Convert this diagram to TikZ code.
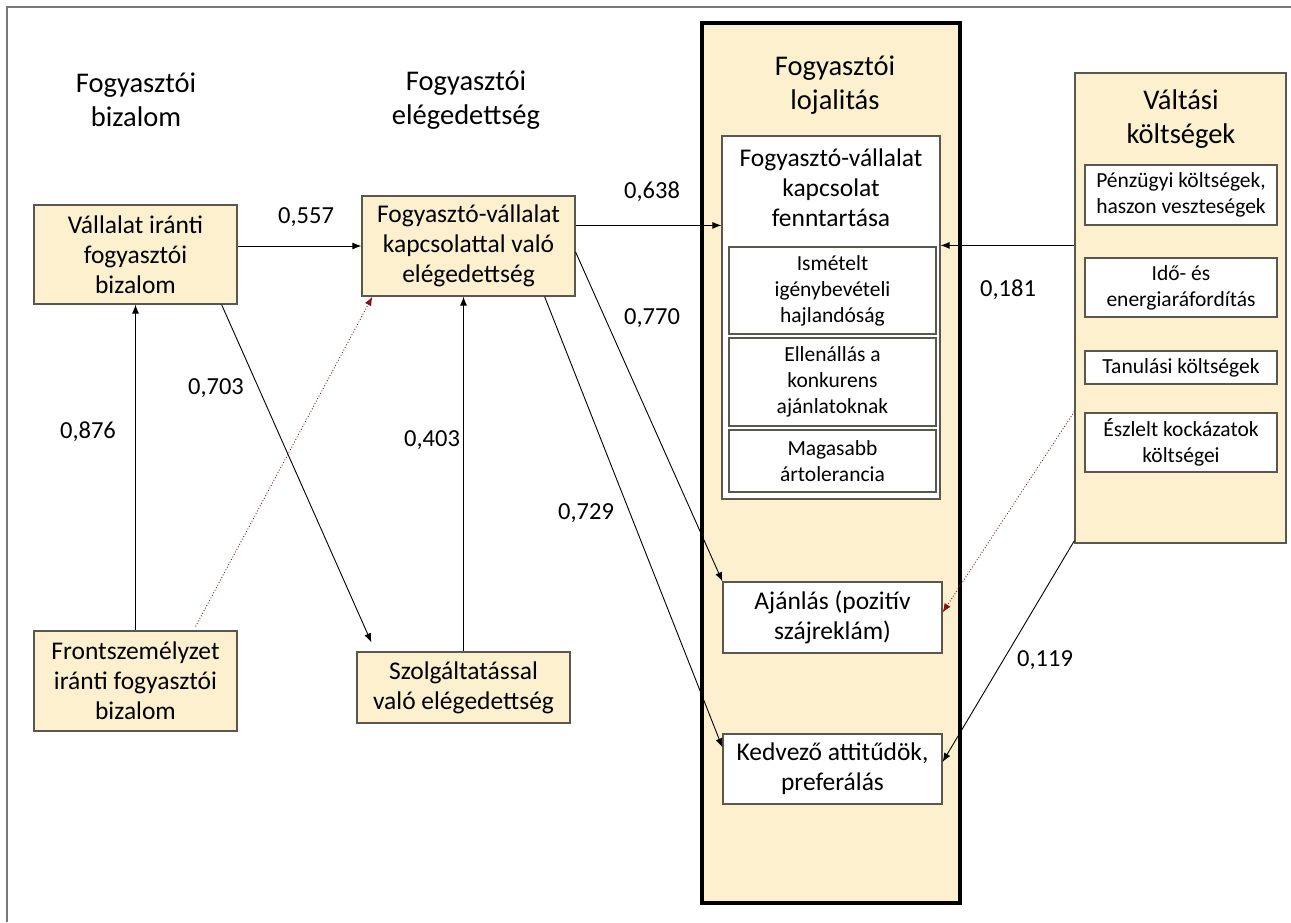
\documentclass[tikz,border=0pt]{standalone}
\usepackage{fontspec}
\setmainfont{Carlito}
\usetikzlibrary{arrows.meta,calc}
\definecolor{boxfill}{RGB}{252,240,207}
\definecolor{boxline}{RGB}{88,88,78}
\definecolor{darkred}{RGB}{130,20,20}
\definecolor{framegray}{RGB}{120,120,120}
\tikzset{
  ybox/.style={draw=boxline, line width=1.2pt, fill=boxfill, inner sep=0pt, align=center,
     font=\fontsize{25.5}{30}\selectfont},
  wbox/.style={draw=boxline, line width=1.2pt, fill=white, inner sep=0pt, align=center,
     font=\fontsize{25.5}{30}\selectfont},
  sbox/.style={draw=boxline, line width=1.2pt, fill=white, inner sep=0pt, align=center,
     font=\fontsize{21.5}{26}\selectfont},
  ttl/.style={align=center, inner sep=0pt, font=\fontsize{28.5}{34}\selectfont},
  lbl/.style={inner sep=0pt, font=\fontsize{24.5}{28}\selectfont},
  arr/.style={draw=black, line width=0.9pt, -{Latex[length=9pt,width=7pt]}},
  rarr/.style={draw=darkred, line width=0.9pt, dotted, -{Latex[length=9pt,width=7pt]}},
}
\begin{document}
\begin{tikzpicture}[x=1pt,y=-1pt]
\useasboundingbox (0,0) rectangle (1291,922);
% frame
\coordinate (fbl) at (7,922);
\coordinate (ftl) at (7,7);
\coordinate (ftr) at (1291,7);
\draw[framegray, line width=1.5pt] (fbl) -- (ftl) -- (ftr);

% loyalty big box
\node[draw=black, line width=3.5pt, fill=boxfill, minimum width=258pt, minimum height=880pt, inner sep=0pt] (loyal) at (831,463) {};
\node[ttl] (loyalt) at (835,85) {Fogyasztói\\lojalitás};
\node[wbox, minimum width=218pt, minimum height=363pt] (fenn) at (831,317.5) {};
\node[align=center, inner sep=0pt, font=\fontsize{25.5}{30}\selectfont] (fenntxt) at (831,188) {Fogyasztó-vállalat\\kapcsolat\\fenntartása};
\node[sbox, minimum width=207pt, minimum height=87pt] (ism) at (832.5,290.5) {Ismételt\\igénybevételi\\hajlandóság};
\node[sbox, minimum width=207pt, minimum height=88pt] (ell) at (832.5,382) {Ellenállás a\\konkurens\\ajánlatoknak};
\node[sbox, minimum width=207pt, minimum height=62pt] (mag) at (832.5,461) {Magasabb\\ártolerancia};
\node[wbox, minimum width=219pt, minimum height=71pt] (aj) at (832.5,617.5) {Ajánlás (pozitív\\szájreklám)};
\node[wbox, minimum width=219pt, minimum height=70pt] (kd) at (832.5,769) {Kedvező attitűdök,\\preferálás};

% switching costs
\node[ybox, minimum width=211pt, minimum height=470pt] (valt) at (1180.5,308) {};
\node[ttl] (valtt) at (1181,119.5) {Váltási\\költségek};
\node[sbox, minimum width=192pt, minimum height=60pt] (penz) at (1181,195) {Pénzügyi költségek,\\haszon veszteségek};
\node[sbox, minimum width=192pt, minimum height=59pt] (ido) at (1181,287.5) {Idő- és\\energiaráfordítás};
\node[sbox, minimum width=192pt, minimum height=33pt] (tan) at (1181,367.5) {Tanulási költségek};
\node[sbox, minimum width=192pt, minimum height=59pt] (esz) at (1181,442.5) {Észlelt kockázatok\\költségei};

% left column
\node[ttl] (bizt) at (136,100) {Fogyasztói\\bizalom};
\node[ttl] (elegt) at (466,100) {Fogyasztói\\elégedettség};
\node[ybox, minimum width=203pt, minimum height=99pt] (va) at (135.5,254.5) {Vállalat iránti\\fogyasztói\\bizalom};
\node[ybox, minimum width=203pt, minimum height=100pt] (fr) at (135.5,681) {Frontszemélyzet\\iránti fogyasztói\\bizalom};
\node[ybox, minimum width=213pt, minimum height=100pt] (fv) at (468.5,246) {Fogyasztó-vállalat\\kapcsolattal való\\elégedettség};
\node[ybox, minimum width=213pt, minimum height=71pt] (sz) at (463.5,687.5) {Szolgáltatással\\való elégedettség};

% arrows
\draw[arr] (fv.west -| va.east) -- (fv.west);
\draw[arr] (fr.north) -- (va.south);
\draw[arr] (sz.north) -- (sz.north |- fv.south);
\draw[arr] ([xshift=-16pt]va.south east) -- ([xshift=15pt,yshift=9pt]sz.north west);
\draw[rarr] ([xshift=-42pt,yshift=4pt]fr.north east) -- ([xshift=11pt]fv.south west);
\draw[arr] ([yshift=-30pt]fv.north east) coordinate (p638) -- (p638 -| fenn.west);
\draw[arr] ([yshift=-6pt]fv.east) -- (aj.north west);
\draw[arr] ([xshift=-31pt]fv.south east) -- ([yshift=-14pt]kd.north west);
\draw[arr] ([yshift=-173pt]valt.north west) coordinate (p181) -- (p181 -| fenn.east);
\draw[rarr] ([yshift=-339pt]valt.north west) -- ([yshift=5pt]aj.east);
\draw[arr] ([yshift=3pt]valt.south west) -- ([yshift=7pt]kd.east);

% labels
\node[lbl] (l557) at (306,217) {0,557};
\node[lbl] (l876) at (88,432) {0,876};
\node[lbl] (l403) at (432,440) {0,403};
\node[lbl] (l703) at (216,388) {0,703};
\node[lbl] (l638) at (652,192) {0,638};
\node[lbl] (l770) at (652,318) {0,770};
\node[lbl] (l729) at (586,513) {0,729};
\node[lbl] (l181) at (1008,290) {0,181};
\node[lbl] (l119) at (1045,660) {0,119};
\end{tikzpicture}
\end{document}
